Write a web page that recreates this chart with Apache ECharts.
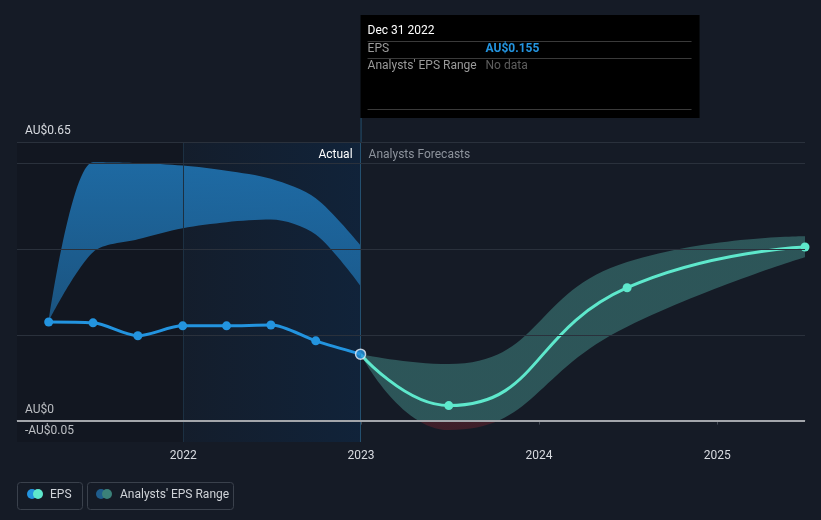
<!DOCTYPE html>
<html><head><meta charset="utf-8">
<script src="https://cdn.jsdelivr.net/npm/echarts@6/dist/echarts.min.js"></script>
<style>html,body{margin:0;padding:0;background:#151b26;}#c{width:821px;height:520px;}</style>
</head><body><div id="c"></div>
<script>
const pastDates = ['2021-03-31','2021-06-30','2021-09-30','2021-12-31','2022-03-31','2022-06-30','2022-09-30','2022-12-31'];
const pastEPS = [0.230,0.228,0.198,0.221,0.221,0.223,0.186,0.155];
const pastRangeLow = [0.232,0.393,0.423,0.449,0.463,0.469,0.434,0.314];
const pastRangeHigh = [0.232,0.603,0.601,0.595,0.583,0.564,0.519,0.409];
const fcDates = ['2022-12-31','2023-06-30','2024-06-30','2025-06-30'];
const fcEPS = [0.155,0.035,0.310,0.405];
const fcLow = [0.155,-0.022,0.219,0.381];
const fcHigh = [0.155,0.132,0.370,0.430];
const yLabelValues = [-0.05,0,0.65];
const gridValues = [0.2,0.4,0.6,0.65];
const axisMin = '2021-01-25', axisMax = '2025-06-30';
const nowDate = '2022-12-31', yearStart = '2022-01-01';

const FONT = 'Roboto, "Noto Sans", sans-serif';
const pair = (d, v) => d.map((x, i) => [x, v[i]]);
const diff = (hi, lo) => hi.map((v, i) => +(v - lo[i]).toFixed(4));

const chart = echarts.init(document.getElementById('c'), null, {renderer: 'canvas'});
const option = {
  backgroundColor: '#151b26',
  animation: false,
  textStyle: {fontFamily: FONT},
  grid: {left: 17, right: 16, top: 142, bottom: 78},
  xAxis: {
    type: 'time', min: axisMin, max: axisMax,
    minInterval: 365 * 86400000, maxInterval: 366 * 86400000,
    splitLine: {show: false},
    axisLine: {lineStyle: {color: '#454c57', width: 1}},
    axisTick: {show: true, length: 4, lineStyle: {color: '#454c57'}},
    axisLabel: {color: '#d8dbe0', fontSize: 12, fontFamily: FONT, margin: 8, formatter: '{yyyy}'}
  },
  yAxis: {
    type: 'value', min: -0.05, max: 0.65,
    splitLine: {show: false}, axisLine: {show: false}, axisTick: {show: false},
    axisLabel: {
      inside: true, margin: 8, customValues: yLabelValues, showMinLabel: true, showMaxLabel: true,
      color: '#d8dbe0', fontSize: 12, fontFamily: FONT, verticalAlign: 'bottom', padding: [0, 0, 5, 0],
      formatter: v => (v < 0 ? '-AU$' : 'AU$') + Math.abs(v).toString()
    }
  },
  series: [
    {
      name: 'pastLow', type: 'line', stack: 'past', stackStrategy: 'all', smooth: 0.3,
      data: pair(pastDates, pastRangeLow), symbol: 'none', lineStyle: {opacity: 0}, silent: true, z: 1,
      markArea: {
        silent: true,
        data: [
          [{xAxis: axisMin, itemStyle: {color: 'rgba(0,0,0,0.13)'}}, {xAxis: yearStart}],
          [{xAxis: yearStart, itemStyle: {color: new echarts.graphic.LinearGradient(0, 0, 1, 0, [
            {offset: 0, color: 'rgba(8,50,95,0.10)'}, {offset: 1, color: 'rgba(8,50,95,0.34)'}])}}, {xAxis: nowDate}]
        ]
      },
      markLine: {
        silent: true, symbol: 'none', label: {show: false},
        data: [
          {xAxis: yearStart, lineStyle: {color: '#1c3042', width: 1, type: 'solid'}},
          {xAxis: nowDate, lineStyle: {color: '#24506f', width: 1, type: 'solid'}}
        ]
      }
    },
    {
      name: 'pastRange', type: 'line', stack: 'past', stackStrategy: 'all', smooth: 0.3,
      data: pair(pastDates, diff(pastRangeHigh, pastRangeLow)), symbol: 'none', lineStyle: {opacity: 0}, silent: true, z: 1,
      areaStyle: {opacity: 1, color: new echarts.graphic.LinearGradient(0, 0, 0, 1, [
        {offset: 0, color: 'rgba(32,120,185,0.85)'}, {offset: 1, color: 'rgba(32,120,185,0.62)'}])}
    },
    {
      name: 'fcLow', type: 'line', stack: 'fc', stackStrategy: 'all', smooth: 0.5,
      data: pair(fcDates, fcLow), symbol: 'none', lineStyle: {opacity: 0}, silent: true, z: 1,
      markLine: {
        silent: true, symbol: 'none', label: {show: false},
        data: gridValues.map(v => ({yAxis: v, lineStyle: {color: '#2a313c', width: 1, type: 'solid'}}))
          .concat([{yAxis: 0, lineStyle: {color: '#a3a6ab', width: 2, type: 'solid'}}])
      }
    },
    {
      name: 'fcRange', type: 'line', stack: 'fc', stackStrategy: 'all', smooth: 0.5,
      data: pair(fcDates, diff(fcHigh, fcLow)), symbol: 'none', lineStyle: {opacity: 0}, silent: true, z: 1,
      areaStyle: {opacity: 1, color: 'rgba(100,220,205,0.3)'}
    },
    {
      name: 'EPS', type: 'line', smooth: 0.3, data: pair(pastDates, pastEPS), z: 5,
      lineStyle: {color: '#2394df', width: 3}, itemStyle: {color: '#2394df', borderWidth: 0},
      symbol: 'circle', symbolSize: (v, p) => p.dataIndex === pastDates.length - 1 ? 0 : 9
    },
    {
      name: 'EPS forecast', type: 'line', smooth: 0.5, data: pair(fcDates, fcEPS), z: 4,
      lineStyle: {color: '#5ee8cc', width: 3}, itemStyle: {color: '#5ee8cc', borderWidth: 0},
      symbol: 'circle', symbolSize: (v, p) => p.dataIndex === 0 ? 0 : 9
    },
    {
      name: 'current', type: 'scatter', data: [[nowDate, pastEPS[pastEPS.length - 1]]], z: 6,
      symbol: 'circle', symbolSize: 10, itemStyle: {color: '#2394df', borderColor: '#e8eef5', borderWidth: 1.5}
    }
  ]
};
chart.setOption(option);

// pixel-dependent decorations
const px = chart.convertToPixel({gridIndex: 0}, [nowDate, 0]);
const xNow = px[0], yZero = px[1];
const yTop = chart.convertToPixel({gridIndex: 0}, [nowDate, 0.45])[1];
const yBot = chart.convertToPixel({gridIndex: 0}, [nowDate, -0.05])[1];
const yLab = chart.convertToPixel({gridIndex: 0}, [nowDate, 0.619])[1];
const zf = (yZero - yTop) / (yBot - yTop);
const fcGrad = new echarts.graphic.LinearGradient(0, yTop, 0, yBot, [
  {offset: 0, color: 'rgba(100,220,205,0.3)'},
  {offset: zf, color: 'rgba(100,220,205,0.3)'},
  {offset: zf, color: 'rgba(170,40,50,0.28)'},
  {offset: 1, color: 'rgba(170,40,50,0.28)'}
], true);

const tipX = xNow, tipY = 15;
chart.setOption({
  series: [{}, {}, {}, {areaStyle: {color: fcGrad}}],
  graphic: [
    {type: 'line', shape: {x1: xNow + 0.5, y1: 118, x2: xNow + 0.5, y2: 142}, style: {stroke: '#24506f', lineWidth: 1}, z: 10},
    {type: 'text', x: xNow - 8, y: yLab, style: {text: 'Actual', fill: '#ffffff', font: '12px ' + FONT, align: 'right', verticalAlign: 'middle'}, z: 10},
    {type: 'text', x: xNow + 8, y: yLab, style: {text: 'Analysts Forecasts', fill: '#8d939c', font: '12px ' + FONT, align: 'left', verticalAlign: 'middle'}, z: 10},
    // tooltip box
    {type: 'rect', shape: {x: tipX, y: tipY, width: 339, height: 103}, style: {fill: '#000000'}, z: 20},
    {type: 'text', x: tipX + 7, y: 31, style: {text: 'Dec 31 2022', fill: '#ffffff', font: '12px ' + FONT, verticalAlign: 'middle'}, z: 21},
    {type: 'line', shape: {x1: tipX + 7, y1: 41.5, x2: tipX + 331, y2: 41.5}, style: {stroke: '#3a3a3a', lineWidth: 1}, z: 21},
    {type: 'text', x: tipX + 7, y: 49, style: {text: 'EPS', fill: '#9a9a9a', font: '12px ' + FONT, verticalAlign: 'middle'}, z: 21},
    {type: 'text', x: tipX + 125, y: 49, style: {text: 'AU$' + pastEPS[pastEPS.length - 1].toFixed(3), fill: '#2394df', font: 'bold 12px ' + FONT, verticalAlign: 'middle'}, z: 21},
    {type: 'line', shape: {x1: tipX + 7, y1: 58.5, x2: tipX + 331, y2: 58.5}, style: {stroke: '#3a3a3a', lineWidth: 1}, z: 21},
    {type: 'text', x: tipX + 7, y: 66, style: {text: "Analysts' EPS Range", fill: '#9a9a9a', font: '12px ' + FONT, verticalAlign: 'middle'}, z: 21},
    {type: 'text', x: tipX + 125, y: 66, style: {text: 'No data', fill: '#5e5e5e', font: '12px ' + FONT, verticalAlign: 'middle'}, z: 21},
    {type: 'line', shape: {x1: tipX + 7, y1: 109.5, x2: tipX + 331, y2: 109.5}, style: {stroke: '#3a3a3a', lineWidth: 1}, z: 21},
    // legend
    {type: 'rect', shape: {x: 17.5, y: 482.5, width: 65, height: 27, r: 3}, style: {fill: 'none', stroke: '#3a414c', lineWidth: 1}, z: 10},
    {type: 'circle', shape: {cx: 32, cy: 494, r: 5}, style: {fill: '#2394df'}, z: 11},
    {type: 'circle', shape: {cx: 38, cy: 494, r: 5}, style: {fill: '#5ee8cc'}, z: 12},
    {type: 'text', x: 50, y: 495, style: {text: 'EPS', fill: '#cfd3d8', font: '12px ' + FONT, verticalAlign: 'middle'}, z: 11},
    {type: 'rect', shape: {x: 87.5, y: 482.5, width: 146, height: 27, r: 3}, style: {fill: 'none', stroke: '#3a414c', lineWidth: 1}, z: 10},
    {type: 'circle', shape: {cx: 101, cy: 494, r: 5}, style: {fill: '#1f5d8c'}, z: 11},
    {type: 'circle', shape: {cx: 107, cy: 494, r: 5}, style: {fill: '#3b8179'}, z: 12},
    {type: 'text', x: 120, y: 495, style: {text: "Analysts' EPS Range", fill: '#cfd3d8', font: '12px ' + FONT, verticalAlign: 'middle'}, z: 11}
  ]
});
</script></body></html>
